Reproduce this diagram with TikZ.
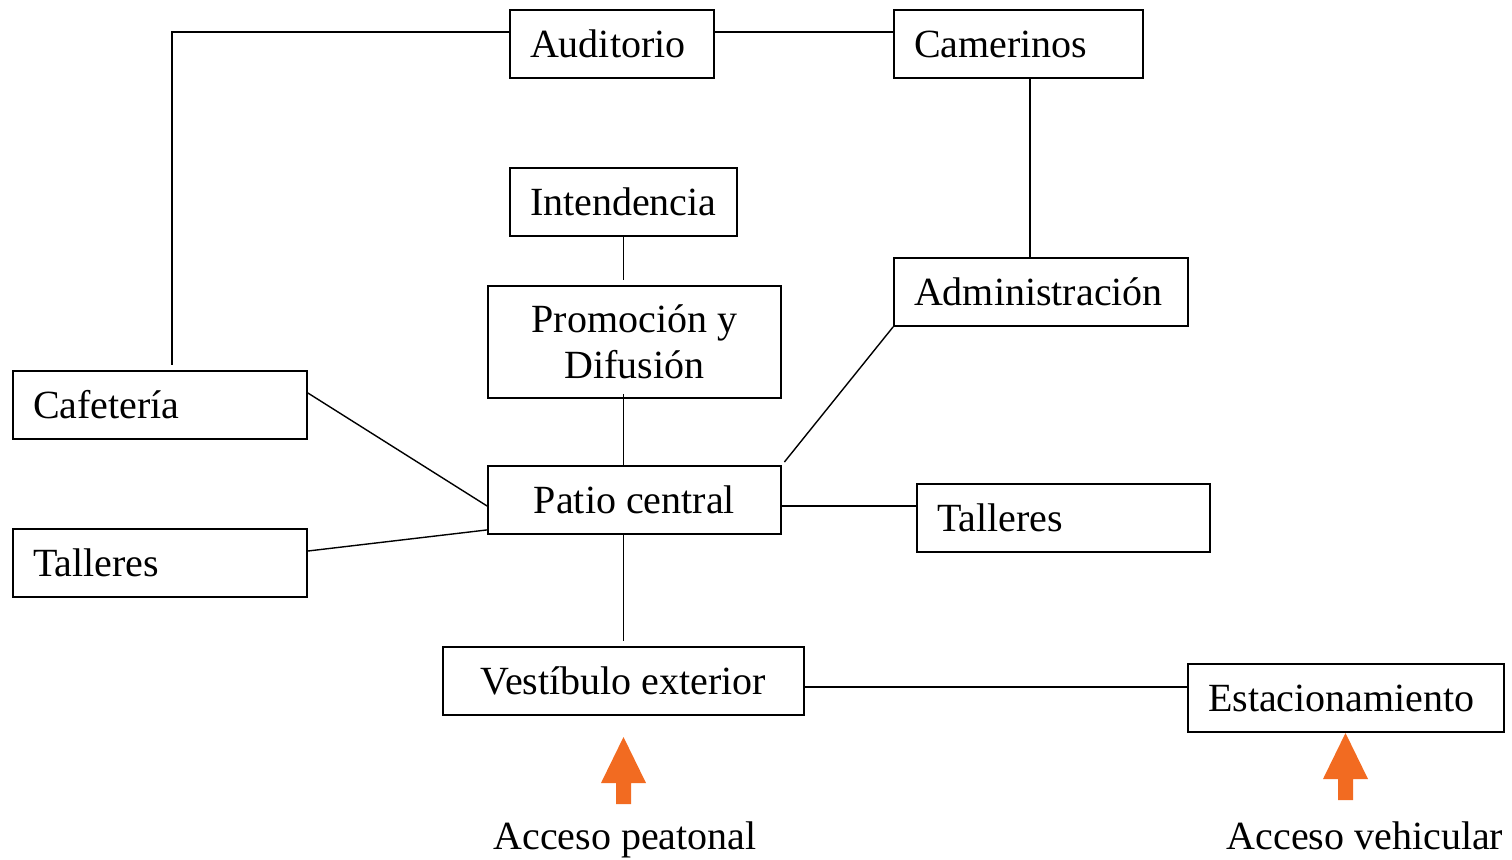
\documentclass[tikz,border=0pt]{standalone}
\usepackage{fontspec}
\setmainfont{Liberation Serif}
\definecolor{Naranja}{rgb}{0.95, 0.42, 0.13}
\usepackage{tikz}
\usetikzlibrary{positioning,calc}
\tikzset{zonas layout/.style={%
    y=-0.5pt,%
    x=0.5pt,%
    every node/.style={%
        font=\fontsize{20}{23}\selectfont%
    },%
    every path/.style={%
        black, line width=0.7pt%
    }%
}}
\tikzset{caja/.style={%
    draw, line width=0.9pt, rectangle, minimum height=34pt,
    inner xsep=10pt, text width=#1, align=left
}}
\tikzset{caja centro/.style={%
    draw, line width=0.9pt, rectangle, minimum height=34pt,
    minimum width=#1, align=center
}}
\tikzset{flecha/.pic={%
    \fill[Naranja] (-7.5,0) -- (-7.5,-21) -- (-22.5,-21) -- (0,-67)
        -- (22.5,-21) -- (7.5,-21) -- (7.5,0) -- cycle;
}}

\begin{document}
\begin{tikzpicture}[zonas layout]
            \useasboundingbox (0,0) rectangle (1512,859);

            \node[caja=82pt] (aud) at (612,44) {Auditorio};
            \node[caja=104.5pt] (cam) at (1018.5,44) {Camerinos};
            \node[caja=93.5pt] (int) at (623.5,202) {Intendencia};
            \node[caja centro=146.5pt, minimum height=56pt] (pro) at (634.5,342) {Promoción y\\Difusión};
            \node[caja=127pt] (adm) at (1041,292) {Administración};
            \node[caja=127pt] (caf) at (160,405) {Cafetería};
            \node[caja centro=146.5pt] (pat) at (634.5,500) {Patio central};
            \node[caja=126.5pt] (tar) at (1063.5,518) {Talleres};
            \node[caja=127pt] (tal) at (160,563) {Talleres};
            \node[caja centro=180.5pt] (ves) at (623.5,681) {Vestíbulo exterior};
            \node[caja=138pt] (est) at (1346,698) {Estacionamiento};

            % conexiones
            \draw[shorten >=2.5pt] ([yshift=6pt]aud.west) -| ([xshift=6pt]caf.north);
            \draw ([yshift=6pt]aud.east) -- ([yshift=6pt]cam.west);
            \draw ([xshift=5.75pt]cam.south) -- ([xshift=5.75pt]cam.south |- adm.north);
            \draw[shorten >=2.5pt] (int.south) -- (int.south |- pro.north);
            \draw[shorten <=-2.5pt] (int.south |- pro.south) -- (int.south |- pat.north);
            \draw[shorten >=2pt] (adm.south west) -- (pat.north east);
            \draw ([yshift=6pt]caf.east) -- ([yshift=-3pt]pat.west);
            \draw ([yshift=6pt]tal.east) -- ([yshift=2.5pt]pat.south west);
            \draw ([yshift=-3pt]pat.east) -- ([yshift=-3pt]pat.east -| tar.west);
            \draw[shorten >=2.5pt] (ves.north |- pat.south) -- (ves.north);
            \draw ([yshift=-3pt]ves.east) -- ([yshift=-3pt]ves.east -| est.west);

            % accesos
            \pic at (623.5,804) {flecha};
            \pic at (1345.5,800) {flecha};
            \node[anchor=base] (apea) at (625,849) {Acceso peatonal};
            \node[anchor=base] (aveh) at (1365,849) {Acceso vehicular};
        \end{tikzpicture}
\end{document}
